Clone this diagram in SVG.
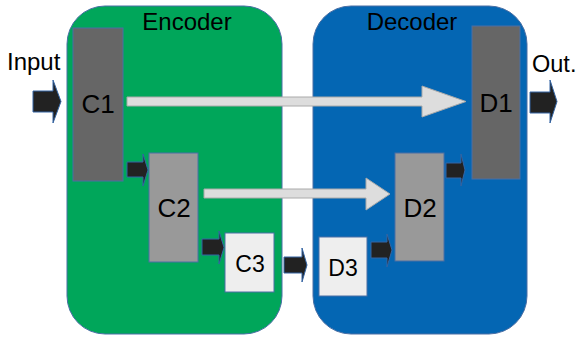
<svg xmlns="http://www.w3.org/2000/svg" width="579" height="339" viewBox="0 0 579 339">
<style>
.t{font-family:"Liberation Sans",Arial,sans-serif;fill:#000}
.box{stroke:#4a6fa5;stroke-width:1}
.blk{fill:#222222;stroke:#3465a4;stroke-width:1}
.lt{fill:#dddddd;stroke:#aaaaaa;stroke-width:1}
</style>
<rect width="579" height="339" fill="#ffffff"/>
<g id="encoder">
<rect x="67" y="6" width="215" height="328" rx="38" fill="#00a65a" stroke="#4a6fa5" stroke-width="1"/>
<text class="t" x="187" y="30" font-size="24" text-anchor="middle">Encoder</text>
</g>
<g id="decoder">
<rect x="313" y="6" width="214" height="328" rx="38" fill="#0466b3" stroke="#4a6fa5" stroke-width="1"/>
<text class="t" x="412" y="30" font-size="24" text-anchor="middle">Decoder</text>
</g>
<g id="input"><text class="t" x="7" y="70" font-size="24">Input</text></g>
<g id="output"><text class="t" x="532" y="72" font-size="23.5">Out.</text></g>
<g id="C1">
<rect class="box" x="73" y="28" width="50" height="153" fill="#666666"/>
<text class="t" x="98" y="113" font-size="26" text-anchor="middle">C1</text>
</g>
<g id="C2">
<rect class="box" x="149" y="153" width="49" height="109" fill="#999999"/>
<text class="t" x="174" y="217" font-size="26" text-anchor="middle">C2</text>
</g>
<g id="C3">
<rect class="box" x="225" y="233" width="49" height="59" fill="#eeeeee"/>
<text class="t" x="250" y="272" font-size="23" text-anchor="middle">C3</text>
</g>
<g id="D3">
<rect class="box" x="319" y="237" width="48" height="59" fill="#eeeeee"/>
<text class="t" x="343" y="276" font-size="23" text-anchor="middle">D3</text>
</g>
<g id="D2">
<rect class="box" x="395" y="153" width="49" height="108" fill="#999999"/>
<text class="t" x="420" y="217" font-size="26" text-anchor="middle">D2</text>
</g>
<g id="D1">
<rect class="box" x="472" y="26" width="48" height="153" fill="#666666"/>
<text class="t" x="496" y="112" font-size="26" text-anchor="middle">D1</text>
</g>
<g id="connectors">
<path class="lt" d="M127,97 H422 V86 L466,101.5 L422,117 V106 H127 Z"/>
<path class="lt" d="M204,189 H366 V178 L390,194 L366,210 V198 H204 Z"/>
<path class="blk" d="M33,91 H53 V80 L61,101.5 L53,123 V112 H33 Z"/>
<path class="blk" d="M127,162 H143 V154 L148,170 L143,186 V177 H127 Z"/>
<path class="blk" d="M202,239 H219 V231 L224,247.5 L219,264 V255 H202 Z"/>
<path class="blk" d="M284,257 H302 V248 L307,265 L302,282 V273 H284 Z"/>
<path class="blk" d="M371,242 H387 V234 L392,250 L387,267 V258 H371 Z"/>
<path class="blk" d="M446,163 H461 V154 L465,170 L461,186 V178 H446 Z"/>
<path class="blk" d="M530,92 H550 V80 L557,101.5 L550,123 V113 H530 Z"/>
</g>
</svg>
